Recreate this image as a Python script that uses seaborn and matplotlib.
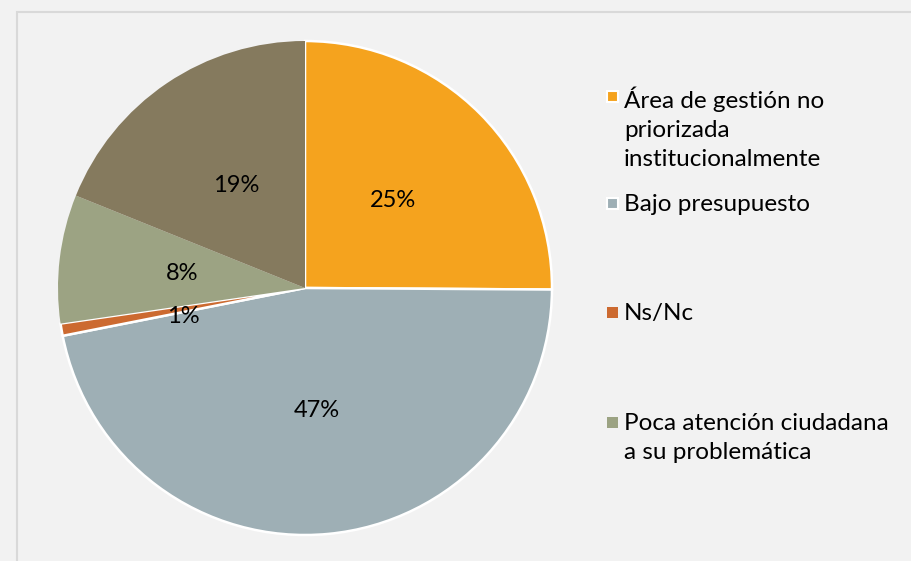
import matplotlib
matplotlib.use("Agg")
import matplotlib.pyplot as plt
from matplotlib.patches import Rectangle
import seaborn as sns

categories = ['Área de gestión no\npriorizada\ninstitucionalmente',
              'Bajo presupuesto',
              'Ns/Nc',
              'Poca atención ciudadana\na su problemática',
              'Otros']
values = [25.1, 46.8, 0.8, 8.4, 18.9]
colors = ['#F5A31E', '#9EAFB5', '#CC6A30', '#9CA383', '#857A5E']
labels = ['25%', '47%', '1%', '8%', '19%']

sns.set_theme(style='white')
plt.rcParams['font.family'] = ['Lato', 'DejaVu Sans']

bg = '#F2F2F2'
fig = plt.figure(figsize=(9.12, 5.61), dpi=100, facecolor=bg)
fig.patches.append(Rectangle((17 / 912, -0.1), 1.0, 1 - 12 / 561 + 0.1,
                             transform=fig.transFigure, fill=False,
                             edgecolor='#D9D9D9', linewidth=1.5))

ax = fig.add_axes([58 / 912, 26 / 561, 494 / 912, 494 / 561])
ax.set_facecolor(bg)
wedges, texts = ax.pie(values, colors=colors, startangle=90, counterclock=False,
                       labels=labels, labeldistance=0.5,
                       wedgeprops=dict(edgecolor='white', linewidth=1.8),
                       textprops=dict(fontsize=17, color='black', ha='center', va='center'))
for w in wedges[3:]:
    w.set_edgecolor('none')
# nudge the small-slice label like the original
x, y = texts[2].get_position()
texts[2].set_position((x, y - 0.03))
ax.set_xlim(-1.0, 1.0)
ax.set_ylim(-1.0, 1.0)
ax.set_aspect('equal')
ax.axis('off')

# legend (only four entries visible in the original)
leg_y = [97, 204, 313, 423]
for i in range(4):
    yf = 1 - leg_y[i] / 561
    fig.patches.append(Rectangle((607 / 912, yf - 5 / 561), 11 / 912, 11 / 561,
                                 transform=fig.transFigure, facecolor=colors[i],
                                 edgecolor='white' if i < 2 else 'none', linewidth=1.5))
    fig.text(624 / 912, yf + 10 / 561, categories[i], fontsize=17.5, color='black',
             ha='left', va='top', linespacing=1.45)

fig.savefig('out.png', dpi=100, facecolor=bg)
